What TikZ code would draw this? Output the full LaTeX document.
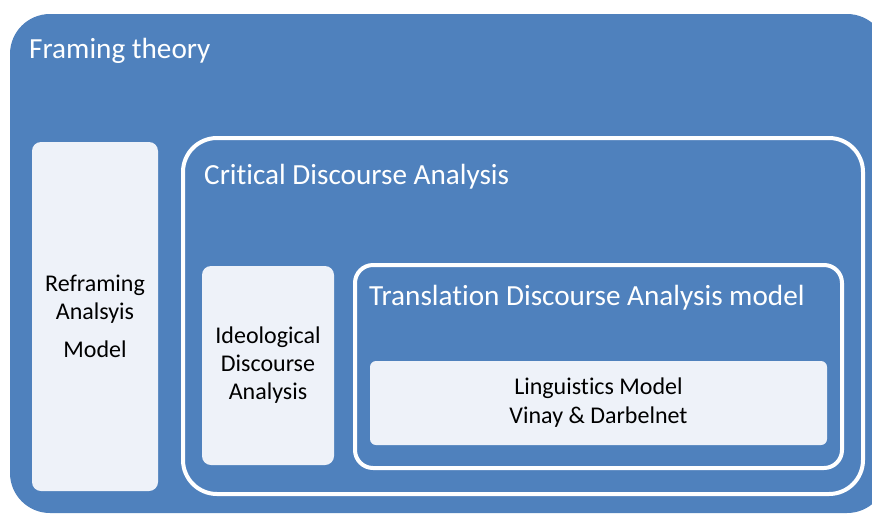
\documentclass[tikz,border=0pt]{standalone}
\usepackage{fontspec}
\setmainfont[Ligatures=NoCommon]{Carlito}
\definecolor{frameblue}{HTML}{4F81BD}
\definecolor{paleblue}{HTML}{EEF2F9}
\tikzset{
  outerbox/.style={fill=frameblue, draw=none, rounded corners=40pt, inner sep=0pt},
  ringbox/.style={draw=white, line width=4pt, fill=none, inner sep=0pt},
  lightbox/.style={fill=paleblue, draw=none, inner sep=0pt, align=center, text=black,
    font=\fontsize{24}{28}\selectfont},
  heading/.style={text=white, inner sep=0pt, anchor=base west, font=\fontsize{29.2}{34}\selectfont}
}
\begin{document}
\begin{tikzpicture}[x=1pt,y=-1pt]
\useasboundingbox (0,0) rectangle (872,515);
\clip (0,0) rectangle (872,515);
\fill[white] (0,0) rectangle (872,515);
% outer frame
\node[outerbox, minimum width=877pt, minimum height=499pt] (frame) at (448.5,263.5) {};
\node[heading] (frametitle) at (29,58) {Framing theory};
% reframing model
\node[lightbox, rounded corners=9pt, minimum width=126pt, minimum height=349pt] (reframe) at (95,316.5)
  {Reframing\\Analsyis\\[10pt]Model};
% critical discourse analysis ring
\node[ringbox, rounded corners=34pt, minimum width=680pt, minimum height=356pt] (cda) at (523,316) {};
\node[heading] (cdatitle) at (204,184) {Critical Discourse Analysis};
% ideological discourse analysis
\node[lightbox, rounded corners=9pt, minimum width=132pt, minimum height=199pt] (ideo) at (268,365.5)
  {Ideological\\Discourse\\Analysis};
% translation discourse analysis ring
\node[ringbox, rounded corners=18pt, minimum width=487pt, minimum height=203pt] (tda) at (598.5,366.5) {};
\node[heading] (tdatitle) at (369,305) {Translation Discourse Analysis model};
% linguistics model
\node[lightbox, rounded corners=6pt, minimum width=457pt, minimum height=84pt, font=\fontsize{24}{29}\selectfont] (ling) at (598.5,403)
  {Linguistics Model\\Vinay \& Darbelnet};
\end{tikzpicture}
\end{document}
